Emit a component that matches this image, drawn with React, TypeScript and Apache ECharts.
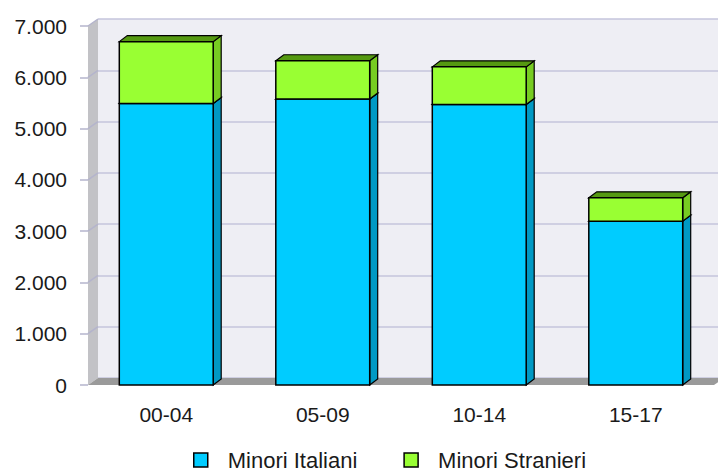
import React, { useEffect, useRef } from "react";
import * as echarts from "echarts";

const categories = ["00-04", "05-09", "10-14", "15-17"];
const italiani = [5490, 5575, 5470, 3195];
const stranieri = [1205, 747, 733, 455];
const yTicks = [0, 1000, 2000, 3000, 4000, 5000, 6000, 7000];
const seriesNames = ["Minori Italiani", "Minori Stranieri"];

const FONT = "'Liberation Sans', Arial, sans-serif";
const BAR_DX = 8;
const BAR_DY = 6;
const WALL_DX = 10;
const WALL_DY = 7;

const fmt = (v: number) => String(v).replace(/\B(?=(\d{3})+(?!\d))/g, ".");

function barRenderer(front: string, side: string, top: string) {
  return (params: any, api: any) => {
    const idx = api.value(0);
    const p0 = api.coord([idx, api.value(1)]);
    const p1 = api.coord([idx, api.value(2)]);
    const bw = api.size([1, 0])[0] * 0.6;
    const x0 = p0[0] - bw / 2;
    const x1 = p0[0] + bw / 2;
    const yb = p0[1];
    const yt = p1[1];
    const stroke = "#000";
    return {
      type: "group",
      children: [
        {
          type: "polygon",
          shape: { points: [[x1, yb], [x1 + BAR_DX, yb - BAR_DY], [x1 + BAR_DX, yt - BAR_DY], [x1, yt]] },
          style: { fill: side, stroke, lineWidth: 1.2 },
        },
        {
          type: "polygon",
          shape: { points: [[x0, yt], [x0 + BAR_DX, yt - BAR_DY], [x1 + BAR_DX, yt - BAR_DY], [x1, yt]] },
          style: { fill: top, stroke, lineWidth: 1.2 },
        },
        {
          type: "rect",
          shape: { x: x0, y: yt, width: bw, height: yb - yt },
          style: { fill: front, stroke, lineWidth: 1.5 },
        },
      ],
    };
  };
}

export default function App() {
  const ref = useRef<HTMLDivElement>(null);
  useEffect(() => {
    if (!ref.current) return;
    const chart = echarts.init(ref.current, undefined, { renderer: "svg" });
    const itaData = categories.map((_, i) => [i, 0, italiani[i]]);
    const strData = categories.map((_, i) => [i, italiani[i], italiani[i] + stranieri[i]]);
    const frameData = yTicks.map((t) => [0, t]);
    chart.setOption({
      animation: false,
      backgroundColor: "#ffffff",
      textStyle: { fontFamily: FONT },
      grid: [
        { left: 88, right: 4, top: 26, bottom: 87 },
        {
          left: 88 + WALL_DX,
          right: 4 - WALL_DX,
          top: 26 - WALL_DY,
          bottom: 87 + WALL_DY,
          show: true,
          backgroundColor: "#eeeef4",
          borderWidth: 0,
          z: 0,
        },
      ],
      xAxis: [
        {
          type: "category",
          gridIndex: 0,
          data: categories,
          axisLine: { show: false },
          axisTick: { show: false },
          axisLabel: { fontSize: 21, color: "#1a1a1a", margin: 19, fontFamily: FONT },
        },
        { type: "category", gridIndex: 1, data: categories, show: false },
      ],
      yAxis: [
        {
          type: "value",
          gridIndex: 0,
          min: 0,
          max: 7000,
          interval: 1000,
          axisLine: { show: false },
          axisTick: { show: true, length: 8, lineStyle: { color: "#b4b4cc", width: 1.5 } },
          splitLine: { show: false },
          axisLabel: { fontSize: 21, color: "#1a1a1a", margin: 21, formatter: fmt, fontFamily: FONT },
        },
        {
          type: "value",
          gridIndex: 1,
          min: 0,
          max: 7000,
          interval: 1000,
          axisLine: { show: false },
          axisTick: { show: false },
          axisLabel: { show: false },
          splitLine: { show: true, lineStyle: { color: "#c4c4dc", width: 1.5 } },
        },
      ],
      legend: {
        data: seriesNames,
        left: 188,
        top: 444,
        icon: "rect",
        itemWidth: 14,
        itemHeight: 14,
        itemGap: 46,
        itemStyle: { borderColor: "#000", borderWidth: 1.5 },
        textStyle: { fontSize: 22, color: "#1a1a1a", fontFamily: FONT, padding: [0, 0, 0, 15] },
      },
      series: [
        {
          name: "frame",
          type: "custom",
          xAxisIndex: 0,
          yAxisIndex: 0,
          z: 1,
          silent: true,
          data: frameData,
          encode: { x: 0, y: 1 },
          renderItem: (params: any, api: any) => {
            const cs = params.coordSys;
            const y = api.coord([0, api.value(1)])[1];
            const children: any[] = [];
            if (params.dataIndex === 0) {
              children.push({
                type: "polygon",
                shape: {
                  points: [
                    [cs.x, cs.y],
                    [cs.x + WALL_DX, cs.y - WALL_DY],
                    [cs.x + WALL_DX, cs.y + cs.height - WALL_DY],
                    [cs.x, cs.y + cs.height],
                  ],
                },
                style: { fill: "#c2c2c6" },
              });
              children.push({
                type: "polygon",
                shape: {
                  points: [
                    [cs.x, cs.y + cs.height],
                    [cs.x + WALL_DX, cs.y + cs.height - WALL_DY],
                    [cs.x + cs.width + WALL_DX, cs.y + cs.height - WALL_DY],
                    [cs.x + cs.width, cs.y + cs.height],
                  ],
                },
                style: { fill: "#9a9a9a" },
              });
            }
            if (api.value(1) > 0) {
              children.push({
                type: "line",
                shape: { x1: cs.x, y1: y, x2: cs.x + WALL_DX, y2: y - WALL_DY },
                style: { stroke: "#b4b4cc", lineWidth: 1.5 },
              });
            }
            return { type: "group", children };
          },
        },
        {
          name: seriesNames[0],
          type: "custom",
          xAxisIndex: 0,
          yAxisIndex: 0,
          z: 3,
          itemStyle: { color: "#00ccff" },
          data: itaData,
          encode: { x: 0, y: [1, 2] },
          renderItem: barRenderer("#00ccff", "#0099c4", "#0099c4"),
        },
        {
          name: seriesNames[1],
          type: "custom",
          xAxisIndex: 0,
          yAxisIndex: 0,
          z: 4,
          itemStyle: { color: "#99ff33" },
          data: strData,
          encode: { x: 0, y: [1, 2] },
          renderItem: barRenderer("#99ff33", "#77cc22", "#559911"),
        },
      ],
    });
    return () => chart.dispose();
  }, []);
  return <div ref={ref} style={{ width: 718, height: 472, position: "absolute", left: 0, top: 0 }} />;
}
